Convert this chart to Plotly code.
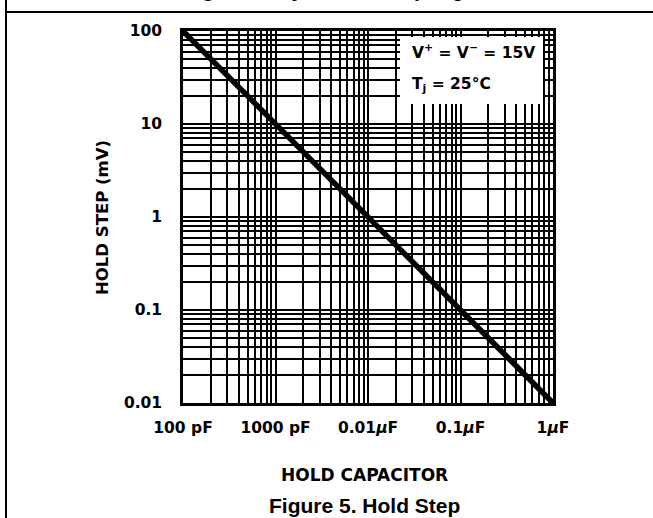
import plotly.graph_objects as go

# ---- data ----
cap_farads = [1e-10, 1e-9, 1e-8, 1e-7, 1e-6]
hold_step_mv = [100, 10, 1, 0.1, 0.01]

x_decades = [1e-10, 1e-9, 1e-8, 1e-7, 1e-6]
x_ticklabels = ["100 pF", "1000 pF", "0.01<i>μ</i>F", "0.1<i>μ</i>F", "1<i>μ</i>F"]
y_decades = [0.01, 0.1, 1, 10, 100]
y_ticklabels = ["0.01", "0.1", "1", "10", "100"]

W, H = 653, 518
L, R, T, B = 183, 553, 31, 403  # plot area pixels


def grid_vals(decades):
    vals = []
    for d in decades[:-1]:
        for m in range(1, 10):
            vals.append(d * m)
    vals.append(decades[-1])
    return vals


def labels_for(vals, decades, texts):
    out = []
    for v in vals:
        lab = ""
        for d, t in zip(decades, texts):
            if abs(v / d - 1) < 1e-9:
                lab = t
        out.append(lab)
    return out


xv = grid_vals(x_decades)
yv = grid_vals(y_decades)


def px(xp):
    return (xp - L) / (R - L)


def py(yp):
    return (B - yp) / (B - T)


lab = dict(family="DejaVu Sans", size=15.5, color="black", weight="bold")
ttl = dict(family="DejaVu Sans", size=16.5, color="black", weight="bold")
cap_font = dict(family="Liberation Sans", size=21, color="black", weight="bold")

fig = go.Figure()
fig.add_trace(go.Scatter(x=cap_farads, y=hold_step_mv, mode="lines",
                         line=dict(color="black", width=5.5), showlegend=False,
                         hoverinfo="skip"))

fig.update_layout(
    width=W, height=H,
    margin=dict(l=L, r=W - R, t=T, b=H - B),
    paper_bgcolor="white", plot_bgcolor="white",
    showlegend=False,
    xaxis=dict(type="log", range=[-10, -6], tickmode="array", tickvals=xv,
               ticktext=labels_for(xv, x_decades, x_ticklabels),
               showgrid=True, gridcolor="black", gridwidth=1.6,
               showline=True, linecolor="black", linewidth=2.5, mirror=True,
               ticks="", tickfont=lab, zeroline=False, ticklabelstandoff=9),
    yaxis=dict(type="log", range=[-2, 2], tickmode="array", tickvals=yv,
               ticktext=labels_for(yv, y_decades, y_ticklabels),
               showgrid=True, gridcolor="black", gridwidth=1.6,
               showline=True, linecolor="black", linewidth=2.5, mirror=True,
               ticks="", tickfont=lab, zeroline=False, ticklabelstandoff=15),
)

# white legend box inside plot
fig.add_shape(type="rect", xref="paper", yref="paper",
              x0=px(400), x1=px(543), y0=py(104), y1=py(37),
              fillcolor="white", line=dict(width=0), layer="above")

fig.add_annotation(xref="paper", yref="paper", x=px(410), y=py(52),
                   xanchor="left", yanchor="middle", showarrow=False,
                   text="V<sup>+</sup> = V<sup>−</sup> = 15V", font=lab)
fig.add_annotation(xref="paper", yref="paper", x=px(410), y=py(85),
                   xanchor="left", yanchor="middle", showarrow=False,
                   text="T<sub>j</sub> = 25°C", font=lab)

# axis titles
fig.add_annotation(xref="paper", yref="paper", x=px(102), y=py(218),
                   xanchor="center", yanchor="middle", showarrow=False,
                   textangle=-90, text="HOLD STEP (mV)", font=ttl)
fig.add_annotation(xref="paper", yref="paper", x=px(364), y=py(475),
                   xanchor="center", yanchor="middle", showarrow=False,
                   text="HOLD CAPACITOR", font=dict(ttl, size=17))

# captions
fig.add_annotation(xref="paper", yref="paper", x=px(364), y=py(505),
                   xanchor="center", yanchor="middle", showarrow=False,
                   text="Figure 5. Hold Step", font=cap_font)
fig.add_annotation(xref="paper", yref="paper", x=px(352), y=py(-11),
                   xanchor="center", yanchor="middle", showarrow=False,
                   text="Figure 4. Dynamic Sampling Error", font=cap_font)

# page frame lines
fig.add_shape(type="line", xref="paper", yref="paper",
              x0=px(6), x1=px(660), y0=py(12), y1=py(12),
              line=dict(color="black", width=2))
fig.add_shape(type="line", xref="paper", yref="paper",
              x0=px(6), x1=px(6), y0=py(-5), y1=py(525),
              line=dict(color="black", width=2))

fig.write_html("out.html", config={"displayModeBar": False},
               post_script="document.body.style.margin='0';")
